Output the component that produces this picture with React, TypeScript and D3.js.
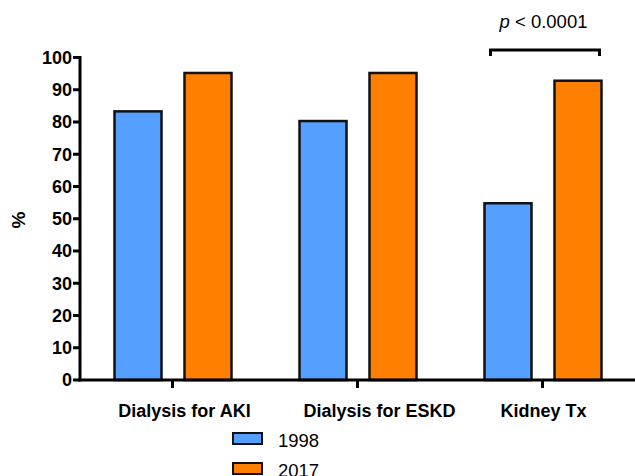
import React from "react";
import * as d3 from "d3";

const categories = ["Dialysis for AKI", "Dialysis for ESKD", "Kidney Tx"];
const series = ["1998", "2017"];
const values1998 = [83.3, 80.3, 54.8];
const values2017 = [95.2, 95.2, 92.8];
const yTicks = [0, 10, 20, 30, 40, 50, 60, 70, 80, 90, 100];
const colors = ["#559ffe", "#ff8000"];

export default function App() {
  const W = 635, H = 476;
  const x = d3.scaleBand<string>().domain(categories).range([80, 635]);
  const y = d3.scaleLinear().domain([0, 100]).range([380, 57.5]);
  const font = "'Liberation Sans', Arial, sans-serif";
  const barW = 47;
  const offsets = [-58, 12];
  const labelShift = [12, 22, 1];
  const data = [values1998, values2017];
  const kx = (x("Kidney Tx") as number) + x.bandwidth() / 2;
  const bracketY = 50;
  return (
    <svg width={W} height={H} style={{ position: "absolute", left: 0, top: 0 }} fontFamily={font}>
      {data.map((vals, si) =>
        vals.map((v, i) => {
          const cx = (x(categories[i]) as number) + x.bandwidth() / 2;
          return (
            <rect key={`${si}-${i}`} x={cx + offsets[si]} y={y(v)} width={barW} height={y(0) - y(v)}
              fill={colors[si]} stroke="#111" strokeWidth={2.5} />
          );
        })
      )}
      {/* y axis */}
      <line x1={80} x2={80} y1={y(100) - 1.5} y2={y(0) + 1.5} stroke="#000" strokeWidth={3} />
      {yTicks.map((t) => (
        <g key={t}>
          <line x1={73} x2={80} y1={y(t)} y2={y(t)} stroke="#000" strokeWidth={3} />
          <text x={72} y={y(t)} dy="0.36em" textAnchor="end" fontSize={18} fontWeight="bold">{t}</text>
        </g>
      ))}
      {/* x axis */}
      <line x1={78.5} x2={635} y1={y(0)} y2={y(0)} stroke="#000" strokeWidth={3} />
      {categories.map((c, i) => {
        const cx = (x(c) as number) + x.bandwidth() / 2;
        return (
          <g key={c}>
            <line x1={cx} x2={cx} y1={y(0)} y2={y(0) + 8} stroke="#000" strokeWidth={3} />
            <text x={cx + labelShift[i]} y={417} textAnchor="middle" fontSize={18} fontWeight="bold">{c}</text>
          </g>
        );
      })}
      <text transform={`translate(25,220) rotate(-90)`} textAnchor="middle" fontSize={19} fontWeight="bold">%</text>
      {/* bracket */}
      <path d={`M${kx - 52},${bracketY + 6}V${bracketY}H${kx + 57}V${bracketY + 6}`} fill="none" stroke="#000" strokeWidth={3} />
      <text x={kx + 1} y={28} textAnchor="middle" fontSize={18.5}>
        <tspan fontStyle="italic">p</tspan>{" < 0.0001"}
      </text>
      {/* legend */}
      {series.map((s, i) => (
        <g key={s}>
          <rect x={233} y={433 + i * 30} width={29} height={11} fill={colors[i]} stroke="#111" strokeWidth={2} />
          <text x={278} y={447 + i * 30} fontSize={18.5}>{s}</text>
        </g>
      ))}
    </svg>
  );
}
